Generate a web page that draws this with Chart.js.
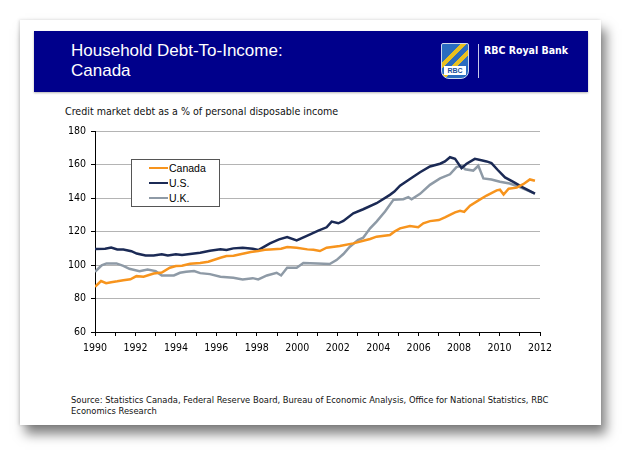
<!DOCTYPE html>
<html>
<head>
<meta charset="utf-8">
<script src="https://cdn.jsdelivr.net/npm/chart.js@4.4.0/dist/chart.umd.min.js"></script>
<style>
  html, body { margin: 0; padding: 0; background: #fff; }
  body { width: 640px; height: 464px; position: relative; overflow: hidden; }
  .card {
    position: absolute; left: 20px; top: 20px; width: 581px; height: 405px;
    background: #fff;
    box-shadow: 5px 9px 11px rgba(0,0,0,0.5), -1px 0 3px rgba(0,0,0,0.15);
  }
  .banner {
    position: absolute; left: 34px; top: 31px; width: 554px; height: 61px;
    background: #00008b;
    box-shadow: 0 1px 2px rgba(0,0,0,0.3);
  }
  .title {
    position: absolute; left: 37px; top: 10px; color: #fff;
    font: 17px/20px "Liberation Sans", Arial, sans-serif;
  }
  .logo {
    position: absolute; left: 407px; top: 12px; width: 26px; height: 34px;
    background: linear-gradient(135deg, #2a6cc0 0%, #2a6cc0 30%, #e8c020 31%, #e8c020 40%, #2a6cc0 41%, #2a6cc0 52%, #e8c020 53%, #e8c020 62%, #2a6cc0 63%);
    border-radius: 2px 2px 8px 8px;
    border: 1px solid #cfd8ec;
  }
  .logo span {
    position: absolute; left: 2px; bottom: 3px; width: 22px; text-align: center;
    background: #fff; color: #1a4f9c; font: bold 7px/9px "Liberation Sans", Arial, sans-serif;
  }
  .sep { position: absolute; left: 444px; top: 13px; width: 1px; height: 34px; background: #c8c8e8; }
  .brand {
    position: absolute; left: 450px; top: 13px; color: #fff;
    font: bold 10.5px/12px "DejaVu Sans Condensed", "Liberation Sans Narrow", "DejaVu Sans", sans-serif;
  }
  .subtitle {
    position: absolute; left: 65px; top: 105px; color: #111;
    font: 10.6px/12px "DejaVu Sans Condensed", "Liberation Sans Narrow", "DejaVu Sans", sans-serif;
  }
  .source {
    position: absolute; left: 71px; top: 395px; width: 520px; color: #111;
    font: 9.3px/10.5px "DejaVu Sans Condensed", "Liberation Sans Narrow", "DejaVu Sans", sans-serif;
  }
  .chart-box { position: absolute; left: 40px; top: 120px; width: 520px; height: 245px; }
  .legend {
    position: absolute; left: 131px; top: 159px; width: 87px; height: 46px;
    border: 1px solid #555; background: #fff;
    font: 10.5px/15px "Liberation Sans", Arial, sans-serif; color: #000;
  }
  .legend div { position: absolute; left: 17px; height: 15px; }
  .legend i { display: inline-block; width: 19px; height: 2.5px; vertical-align: middle; margin-right: 1px; position: relative; top: -1px; }
</style>
</head>
<body>
<div class="card"></div>
<div class="banner">
  <div class="title">Household Debt-To-Income:<br>Canada</div>
  <div class="logo"><span>RBC</span></div>
  <div class="sep"></div>
  <div class="brand">RBC Royal Bank</div>
</div>
<div class="subtitle">Credit market debt as a % of personal disposable income</div>
<div class="chart-box"><canvas id="debtChart"></canvas></div>
<div class="legend" id="legend"></div>
<div class="source">Source: Statistics Canada, Federal Reserve Board, Bureau of Economic Analysis, Office for National Statistics, RBC<br>Economics Research</div>

<script>
// ==========================================
// DATA
// ==========================================

const seriesNames = ['Canada', 'U.S.', 'U.K.'];
const seriesColors = ['#f7941d', '#1b2a55', '#8e9aa6'];

const canadaYears = [1990.0, 1990.3, 1990.55, 1990.8, 1991.1, 1991.4, 1991.75, 1992.05, 1992.4, 1992.9,
    1993.3, 1993.7, 1994.0, 1994.3, 1994.7, 1995.2, 1995.6, 1996.2, 1996.5, 1996.85,
    1997.3, 1997.7, 1998.07, 1998.4, 1998.65, 1999.2, 1999.5, 1999.97, 2000.5, 2000.8,
    2001.12, 2001.45, 2002.1, 2002.77, 2003.26, 2003.6, 2003.92, 2004.58, 2004.8, 2005.08,
    2005.57, 2005.98, 2006.23, 2006.56, 2007.0, 2007.3, 2007.55, 2007.8, 2008.05, 2008.25,
    2008.54, 2009.0, 2009.36, 2009.86, 2010.02, 2010.2, 2010.45, 2010.85, 2011.17, 2011.5, 2011.75];
const canadaValues = [87, 90.5, 89.2, 89.8, 90.3, 91, 91.5, 93.4, 93, 95,
    95.6, 98.4, 99.4, 99.6, 100.8, 101.2, 102, 104.4, 105.4, 105.6,
    106.8, 107.8, 108.4, 109.2, 109.4, 109.8, 110.8, 110.4, 109.4, 109.2,
    108.4, 110.4, 111.4, 113, 114.6, 115.6, 117, 118, 120, 122,
    123.4, 122.6, 125, 126.3, 126.9, 128.5, 130, 131.5, 132.4, 131.8,
    135.5, 139, 141.6, 144.7, 145.1, 142.2, 145.7, 146.3, 148.4, 151.2, 150.4];

const usYears = [1990.0, 1990.5, 1990.8, 1991.1, 1991.4, 1991.8, 1992.06, 1992.5, 1992.9, 1993.3,
    1993.6, 1994.0, 1994.3, 1994.7, 1995.2, 1995.68, 1996.2, 1996.5, 1996.84, 1997.3,
    1997.8, 1998.07, 1998.65, 1999.1, 1999.5, 1999.97, 2000.5, 2001.04, 2001.45, 2001.7,
    2002.03, 2002.28, 2002.77, 2003.26, 2003.92, 2004.58, 2004.8, 2005.08, 2005.57, 2006.07,
    2006.56, 2007.06, 2007.3, 2007.55, 2007.8, 2008.12, 2008.37, 2008.78, 2009.1, 2009.36,
    2009.6, 2009.9, 2010.27, 2010.68, 2011.17, 2011.75];
const usValues = [109.7, 109.8, 110.5, 109.3, 109.3, 108.3, 106.9, 105.7, 105.7, 106.5,
    105.8, 106.5, 106, 106.7, 107.4, 108.6, 109.4, 109, 110, 110.4,
    109.8, 109, 113, 115.4, 116.8, 114.8, 117.6, 120.6, 122.6, 126,
    125, 126.4, 131, 133.4, 137, 142, 144, 147.5, 151.5, 155.5,
    159, 160.6, 162, 164.5, 163.5, 158, 160.6, 163.5, 162.7, 162,
    161, 157, 152.4, 149.8, 146.3, 142.7];

const ukYears = [1990.0, 1990.33, 1990.57, 1991.06, 1991.4, 1991.7, 1992.2, 1992.6, 1993.0, 1993.3,
    1993.9, 1994.2, 1994.5, 1994.9, 1995.2, 1995.68, 1996.2, 1996.84, 1997.3, 1997.8,
    1998.07, 1998.5, 1998.98, 1999.2, 1999.5, 1999.97, 2000.3, 2001.0, 2001.6, 2001.94,
    2002.28, 2002.6, 2003.0, 2003.26, 2003.6, 2003.92, 2004.34, 2004.75, 2005.24, 2005.49,
    2005.65, 2006.07, 2006.56, 2007.06, 2007.55, 2007.87, 2008.12, 2008.3, 2008.7, 2008.95,
    2009.2, 2009.6, 2010.02, 2010.5, 2011.0, 2011.75];
const ukValues = [96, 99.8, 101, 101, 99.5, 97.8, 96.4, 97.4, 96.4, 93.8,
    93.8, 95.4, 96, 96.4, 95.2, 94.6, 93, 92.4, 91.4, 92.2,
    91.4, 93.8, 95.4, 93.8, 98.4, 98.4, 101.2, 101, 100.6, 103,
    106.6, 111, 115, 116.4, 122, 126, 132, 139, 139.4, 140.6,
    139.4, 142.6, 148, 151.8, 154.3, 158.6, 159.4, 157.3, 156.5, 159.4,
    151.8, 151.2, 149.8, 148.8, 146.7, 142.7];

const yearMin = 1990;
const yearMax = 2012;
const yTickMin = 60;
const yTickMax = 180;
const yTickStep = 20;

// ==========================================
// CHART
// ==========================================

const toPoints = (xs, ys) => xs.map((x, i) => ({ x: x, y: ys[i] }));
const seriesPoints = [
    toPoints(canadaYears, canadaValues),
    toPoints(usYears, usValues),
    toPoints(ukYears, ukValues)
];

const tickFont = {
    family: '"DejaVu Sans Condensed", "Liberation Sans Narrow", "DejaVu Sans", sans-serif',
    size: 10.5
};

const debtCtx = document.getElementById('debtChart').getContext('2d');
const debtChart = new Chart(debtCtx, {
    type: 'line',
    data: {
        datasets: seriesNames.map((name, i) => ({
            label: name,
            data: seriesPoints[i],
            borderColor: seriesColors[i],
            backgroundColor: seriesColors[i],
            borderWidth: 2.5,
            pointRadius: 0,
            tension: 0,
            order: i === 0 ? 0 : 1
        }))
    },
    options: {
        responsive: true,
        maintainAspectRatio: false,
        animation: false,
        layout: {
            padding: { top: 11, right: 20, left: 0, bottom: 0 }
        },
        plugins: {
            legend: { display: false },
            tooltip: { enabled: false }
        },
        scales: {
            x: {
                type: 'linear',
                min: yearMin,
                max: yearMax,
                afterFit: (scale) => { scale.height = 33; },
                border: { color: '#000', width: 1 },
                grid: {
                    drawOnChartArea: false,
                    tickLength: 4,
                    tickColor: '#000'
                },
                ticks: {
                    stepSize: 1,
                    autoSkip: false,
                    maxRotation: 0,
                    padding: 6,
                    color: '#000',
                    font: tickFont,
                    callback: (v) => (v % 2 === 0 ? String(v) : '')
                }
            },
            y: {
                min: yTickMin,
                max: yTickMax,
                afterFit: (scale) => { scale.width = 55; },
                border: { color: '#000', width: 1 },
                grid: {
                    color: '#b4b4b4',
                    lineWidth: 1,
                    tickLength: 4,
                    tickColor: '#000'
                },
                ticks: {
                    stepSize: yTickStep,
                    padding: 5,
                    color: '#000',
                    font: tickFont
                }
            }
        }
    }
});

// ==========================================
// LEGEND (boxed, inside the plot)
// ==========================================

const legendEl = document.getElementById('legend');
seriesNames.forEach((name, i) => {
    const row = document.createElement('div');
    row.style.top = (1 + i * 15) + 'px';
    row.innerHTML = '<i style="background:' + seriesColors[i] + '"></i>' + name;
    legendEl.appendChild(row);
});
</script>
</body>
</html>
